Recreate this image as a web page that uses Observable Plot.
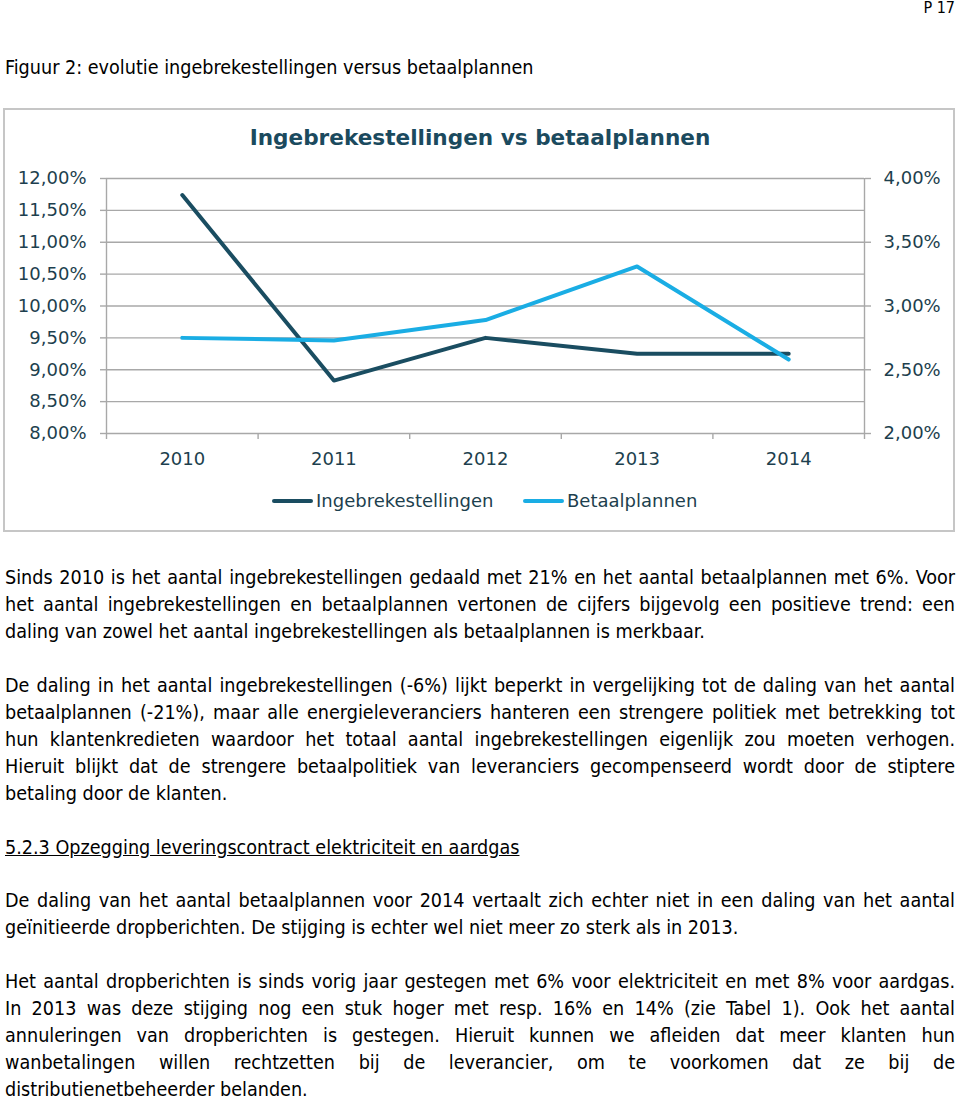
<!DOCTYPE html>
<html>
<head>
<meta charset="utf-8">
<script src="https://cdn.jsdelivr.net/npm/d3@7"></script>
<script src="https://cdn.jsdelivr.net/npm/@observablehq/plot@0.6"></script>
<style>
  html, body { margin: 0; padding: 0; background: #fff; }
  body { width: 960px; height: 1100px; position: relative; overflow: hidden; }
  .abs { position: absolute; }
  .txt { font-family: "DejaVu Sans Condensed", "DejaVu Sans"; font-stretch: condensed; font-size: 19.6px; color: #000; line-height: 27px; height: 27px; white-space: normal; }
  .line { left: 5px; width: 950px; }
  .just { text-align: justify; text-align-last: justify; }
  .box { left: 3px; top: 108px; width: 952px; height: 424px; border: 2px solid #c6c6c6; box-sizing: border-box; }
  .ctitle { font-family: "DejaVu Sans"; font-weight: bold; font-size: 21.6px; color: #1B4A5E; width: 960px; left: 0; text-align: center; line-height: 30px; top: 123px; }
  .leg { font-family: "DejaVu Sans"; font-size: 18px; color: #1D3F4E; line-height: 24px; top: 489px; }
  .sw { height: 4px; top: 499px; width: 41px; border-radius: 2px; }
  #chart { left: 0; top: 160px; }
</style>
</head>
<body>
<div class="abs txt" style="right:5px; top:-6px; font-size:16px;">P 17</div>
<div class="abs txt" style="left:5px; top:54px;">Figuur 2: evolutie ingebrekestellingen versus betaalplannen</div>

<div class="abs box"></div>
<div class="abs ctitle">Ingebrekestellingen vs betaalplannen</div>
<div id="chart" class="abs"></div>
<div class="abs sw" style="left:272px; background:#1A4D61;"></div>
<div class="abs leg" style="left:316px;">Ingebrekestellingen</div>
<div class="abs sw" style="left:523px; background:#1AADE4;"></div>
<div class="abs leg" style="left:567px;">Betaalplannen</div>

<div class="abs txt line just" style="top:564px;">Sinds 2010 is het aantal ingebrekestellingen gedaald met 21% en het aantal betaalplannen met 6%. Voor</div>
<div class="abs txt line just" style="top:591px;">het aantal ingebrekestellingen en betaalplannen vertonen de cijfers bijgevolg een positieve trend: een</div>
<div class="abs txt line" style="top:618px;">daling van zowel het aantal ingebrekestellingen als betaalplannen is merkbaar.</div>

<div class="abs txt line just" style="top:672px;">De daling in het aantal ingebrekestellingen (-6%) lijkt beperkt in vergelijking tot de daling van het aantal</div>
<div class="abs txt line just" style="top:699px;">betaalplannen (-21%), maar alle energieleveranciers hanteren een strengere politiek met betrekking tot</div>
<div class="abs txt line just" style="top:726px;">hun klantenkredieten waardoor het totaal aantal ingebrekestellingen eigenlijk zou moeten verhogen.</div>
<div class="abs txt line just" style="top:753px;">Hieruit blijkt dat de strengere betaalpolitiek van leveranciers gecompenseerd wordt door de stiptere</div>
<div class="abs txt line" style="top:780px;">betaling door de klanten.</div>

<div class="abs txt line" style="top:834px;"><span style="text-decoration:underline;">5.2.3 Opzegging leveringscontract elektriciteit en aardgas</span></div>

<div class="abs txt line just" style="top:887px;">De daling van het aantal betaalplannen voor 2014 vertaalt zich echter niet in een daling van het aantal</div>
<div class="abs txt line" style="top:914px;">geïnitieerde dropberichten. De stijging is echter wel niet meer zo sterk als in 2013.</div>

<div class="abs txt line just" style="top:968px;">Het aantal dropberichten is sinds vorig jaar gestegen met 6% voor elektriciteit en met 8% voor aardgas.</div>
<div class="abs txt line just" style="top:995px;">In 2013 was deze stijging nog een stuk hoger met resp. 16% en 14% (zie Tabel 1). Ook het aantal</div>
<div class="abs txt line just" style="top:1022px;">annuleringen van dropberichten is gestegen. Hieruit kunnen we afleiden dat meer klanten hun</div>
<div class="abs txt line just" style="top:1049px;">wanbetalingen willen rechtzetten bij de leverancier, om te voorkomen dat ze bij de</div>
<div class="abs txt line" style="top:1076px;">distributienetbeheerder belanden.</div>

<script>
// ---- data ----
const years = [2010, 2011, 2012, 2013, 2014];
const ingebrekestellingen = [11.74, 8.83, 9.50, 9.25, 9.25];   // left axis (%)
const betaalplannen = [2.75, 2.73, 2.89, 3.31, 2.58];           // right axis (%)
const leftTicks = [8, 8.5, 9, 9.5, 10, 10.5, 11, 11.5, 12];
const rightTicks = [2, 2.5, 3, 3.5, 4];
const seriesNames = ["Ingebrekestellingen", "Betaalplannen"];

// ---- helpers ----
const leftDomain = [leftTicks[0], leftTicks[leftTicks.length - 1]];
const rightDomain = [rightTicks[0], rightTicks[rightTicks.length - 1]];
const k = (leftDomain[1] - leftDomain[0]) / (rightDomain[1] - rightDomain[0]);
const toLeft = v => leftDomain[0] + (v - rightDomain[0]) * k;
const toRight = v => rightDomain[0] + (v - leftDomain[0]) / k;
const fmt = v => v.toFixed(2).replace(".", ",") + "%";
const xDomain = [years[0] - 0.5, years[years.length - 1] + 0.5];
const xBounds = d3.range(xDomain[0], xDomain[1] + 0.01, 1);

const table = years.map((year, i) => ({year, ing: ingebrekestellingen[i], bet: betaalplannen[i]}));

const grid = "#a8a8a8";
const labelColor = "#1D3F4E";
const dark = "#1A4D61";
const light = "#1AADE4";

const chart = Plot.plot({
  width: 960,
  height: 310,
  marginTop: 18,
  marginBottom: 37,
  marginLeft: 106,
  marginRight: 96,
  style: {fontFamily: "DejaVu Sans", fontSize: "18px", color: labelColor, background: "transparent"},
  x: {domain: xDomain, axis: null},
  y: {domain: leftDomain, axis: null},
  marks: [
    Plot.ruleY(leftTicks, {stroke: grid, strokeWidth: 1.4}),
    Plot.ruleX([xDomain[0], xDomain[1]], {stroke: grid, strokeWidth: 1.4}),
    Plot.axisY({anchor: "left", ticks: leftTicks, tickSize: 6, tickPadding: 14, tickFormat: fmt, stroke: grid, strokeWidth: 1.4, fill: labelColor, label: null}),
    Plot.axisY({anchor: "right", ticks: rightTicks.map(toLeft), tickSize: 6, tickPadding: 13, tickFormat: d => fmt(toRight(d)), stroke: grid, strokeWidth: 1.4, fill: labelColor, label: null}),
    Plot.axisX({ticks: xBounds, tickSize: 6, tickFormat: () => "", stroke: grid, strokeWidth: 1.4, label: null}),
    Plot.axisX({ticks: years, tickSize: 0, tickPadding: 19, tickFormat: d => String(d), fill: labelColor, label: null}),
    Plot.line(table, {x: "year", y: "ing", stroke: dark, strokeWidth: 4, strokeLinejoin: "round", strokeLinecap: "round"}),
    Plot.line(table, {x: "year", y: d => toLeft(d.bet), stroke: light, strokeWidth: 4, strokeLinejoin: "round", strokeLinecap: "round"})
  ]
});
document.getElementById("chart").appendChild(chart);
</script>
</body>
</html>
